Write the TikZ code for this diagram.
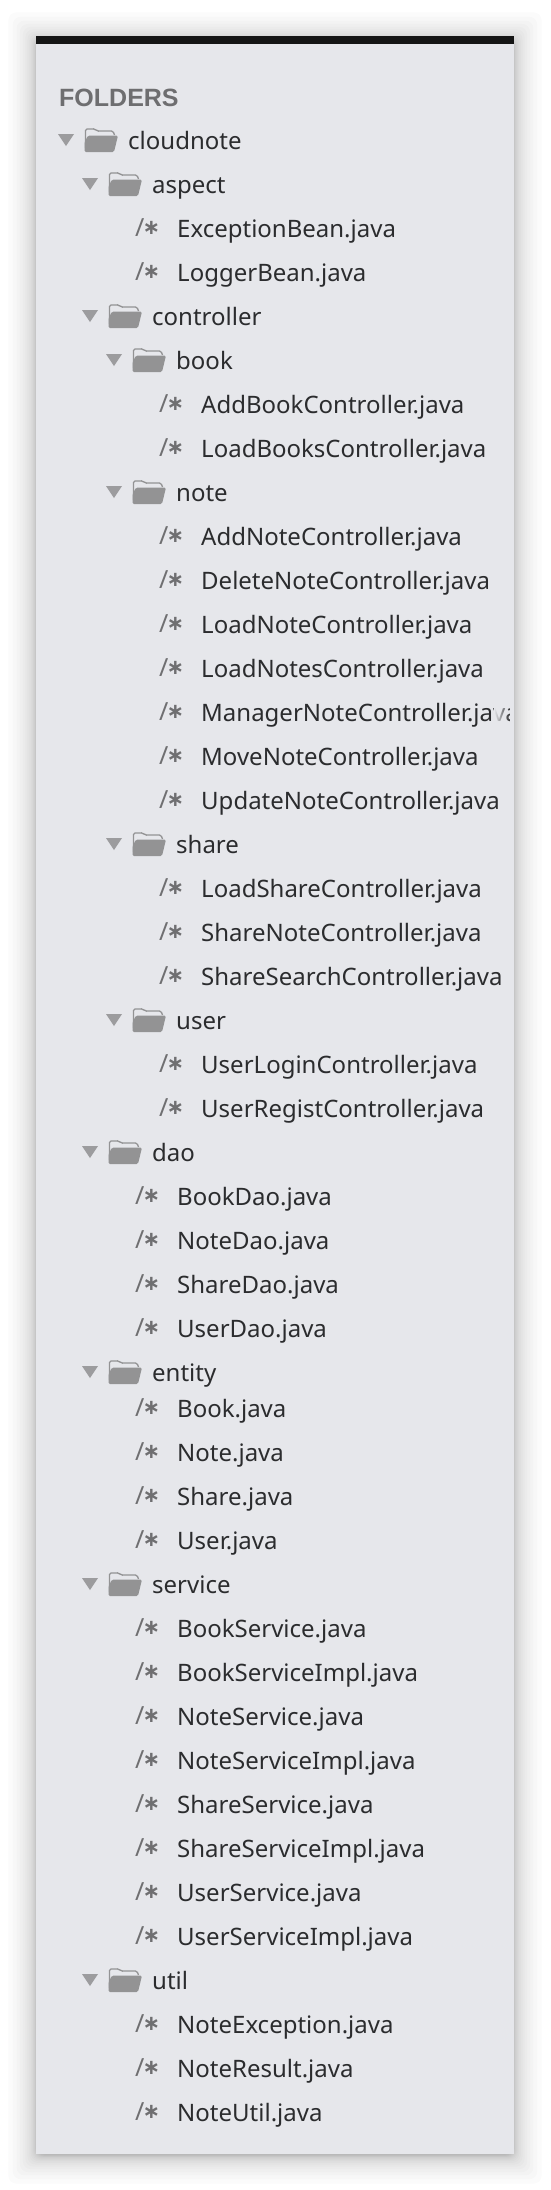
\documentclass[tikz,border=0pt]{standalone}
\usepackage{fontspec}
\setmainfont{Noto Sans}
\newfontfamily\symfont{DejaVu Sans}
\newfontfamily\headfont{Liberation Sans}
\usetikzlibrary{fadings}
\definecolor{panel}{HTML}{E6E7EB}
\definecolor{topbar}{HTML}{151515}
\definecolor{ink}{HTML}{2B2C2E}
\definecolor{head}{HTML}{6E6E70}
\definecolor{ficon}{HTML}{939394}
\definecolor{tri}{HTML}{9C9C9E}
\definecolor{cmt}{HTML}{6F6F71}
\tikzset{
  lbl/.style={anchor=base west,inner sep=0pt,text=ink,font=\fontsize{24}{28}\selectfont},
  cmtlbl/.style={anchor=base west,inner sep=0pt,text=cmt,font=\fontsize{25}{28}\selectfont},
  headlbl/.style={anchor=base west,inner sep=0pt,text=head,font=\headfont\bfseries\fontsize{25}{28}\selectfont},
}
\newcommand{\rowY}[1]{\ifnum#1>28 \numexpr132+44*#1\relax\else\numexpr140+44*#1\relax\fi}
\newcommand{\dirrow}[3]{% k level text
  \pgfmathsetmacro{\yy}{\rowY{#1}}
  \pgfmathsetmacro{\xx}{24*#2}
  \begin{scope}[shift={(\xx,\yy)}]
    \fill[tri] (58,-6) -- (74,-6) -- (66,6) -- cycle;
    \draw[ficon,line width=1.3pt,rounded corners=1.5pt] (85.5,8) -- (85.5,-11) -- (95,-11) -- (97,-9) -- (113,-9) -- (114.5,-5);
    \fill[ficon,rounded corners=1.5pt] (84.5,12) -- (84.5,2) -- (88,-4.5) -- (118,-4.5) -- (114,12) -- cycle;
    \node[lbl] (row#1) at (128,9) {#3};
  \end{scope}
}
\newcommand{\filerow}[3]{%
  \pgfmathsetmacro{\yy}{\rowY{#1}}
  \pgfmathsetmacro{\xx}{24*#2}
  \begin{scope}[shift={(\xx,\yy)}]
    \node[cmtlbl] (cmt#1) at (111,8) {/\kern-2pt\raisebox{1.5pt}{\symfont\bfseries\fontsize{21}{28}\selectfont ∗}};
    \node[lbl] (row#1) at (153,9) {#3};
  \end{scope}
}
\begin{document}
\begin{tikzpicture}[x=1pt,y=-1pt]
\useasboundingbox (0,0) rectangle (550,2190);
\fill[white] (0,0) rectangle (550,2190);
% soft shadow
\foreach \i in {1,...,30}{
  \pgfmathsetmacro{\s}{2*(\i-0.5)/30-1}
  \pgfmathsetmacro{\e}{22*\s*\s*\s+8*\s}
  \fill[black,opacity=0.017,rounded corners=8pt]
    ({36-\e},{40-\e}) rectangle ({514+\e},{2156+\e});
}
\fill[panel] (36,36) rectangle (514,2154);
\fill[topbar] (36,36) rectangle (514,44);
\node[headlbl] (folders) at (59,106) {FOLDERS};
\dirrow{0}{0}{cloudnote}
\dirrow{1}{1}{aspect}
\filerow{2}{1}{ExceptionBean.java}
\filerow{3}{1}{LoggerBean.java}
\dirrow{4}{1}{controller}
\dirrow{5}{2}{book}
\filerow{6}{2}{AddBookController.java}
\filerow{7}{2}{LoadBooksController.java}
\dirrow{8}{2}{note}
\filerow{9}{2}{AddNoteController.java}
\filerow{10}{2}{DeleteNoteController.java}
\filerow{11}{2}{LoadNoteController.java}
\filerow{12}{2}{LoadNotesController.java}
\begin{scope}
  \clip (36,690) rectangle (512,740);
  \filerow{13}{2}{ManagerNoteController.java}
\end{scope}
\filerow{14}{2}{MoveNoteController.java}
\filerow{15}{2}{UpdateNoteController.java}
\dirrow{16}{2}{share}
\filerow{17}{2}{LoadShareController.java}
\filerow{18}{2}{ShareNoteController.java}
\filerow{19}{2}{ShareSearchController.java}
\dirrow{20}{2}{user}
\filerow{21}{2}{UserLoginController.java}
\filerow{22}{2}{UserRegistController.java}
\dirrow{23}{1}{dao}
\filerow{24}{1}{BookDao.java}
\filerow{25}{1}{NoteDao.java}
\filerow{26}{1}{ShareDao.java}
\filerow{27}{1}{UserDao.java}
\dirrow{28}{1}{entity}
\filerow{29}{1}{Book.java}
\filerow{30}{1}{Note.java}
\filerow{31}{1}{Share.java}
\filerow{32}{1}{User.java}
\dirrow{33}{1}{service}
\filerow{34}{1}{BookService.java}
\filerow{35}{1}{BookServiceImpl.java}
\filerow{36}{1}{NoteService.java}
\filerow{37}{1}{NoteServiceImpl.java}
\filerow{38}{1}{ShareService.java}
\filerow{39}{1}{ShareServiceImpl.java}
\filerow{40}{1}{UserService.java}
\filerow{41}{1}{UserServiceImpl.java}
\dirrow{42}{1}{util}
\filerow{43}{1}{NoteException.java}
\filerow{44}{1}{NoteResult.java}
\filerow{45}{1}{NoteUtil.java}
% fade of the over-long row
\fill[panel,path fading=east] (494,696) rectangle (510,732);
\fill[panel] (509.5,696) rectangle (514,732);
\end{tikzpicture}
\end{document}
